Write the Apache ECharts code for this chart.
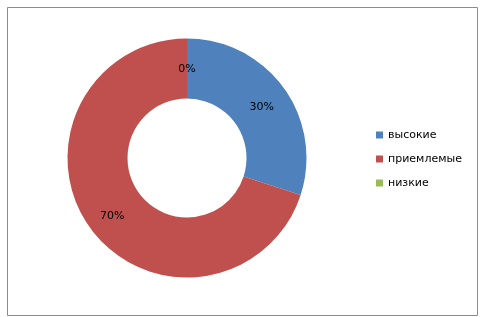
<!DOCTYPE html>
<html>
<head>
<meta charset="utf-8">
<script src="https://cdn.jsdelivr.net/npm/echarts@6/dist/echarts.min.js"></script>
<style>html,body{margin:0;padding:0;background:#fff}#c{width:480px;height:317px}</style>
</head>
<body>
<div id="c"></div>
<script>
var categories = ['высокие', 'приемлемые', 'низкие'];
var values = [30, 70, 0];
var colors = ['#4F81BD', '#C0504D', '#9BBB59'];

var chart = echarts.init(document.getElementById('c'), null, {renderer: 'canvas'});
var total = values.reduce(function (a, b) { return a + b; }, 0);
chart.setOption({
  animation: false,
  graphic: [{
    type: 'rect', left: 5, top: 5,
    shape: {width: 470, height: 308},
    style: {fill: 'none', stroke: '#8c8c8c', lineWidth: 1}, silent: true
  }],
  legend: {
    orient: 'vertical', left: 371, top: 123,
    itemWidth: 7, itemHeight: 7, itemGap: 10,
    icon: 'rect',
    textStyle: {fontFamily: 'DejaVu Sans', fontSize: 11, color: '#000', lineHeight: 14},
    data: categories
  },
  series: [{
    type: 'pie',
    center: [187, 158],
    radius: [59.5, 119.5],
    startAngle: 90,
    clockwise: true,
    avoidLabelOverlap: false,
    silent: true,
    label: {
      show: true, position: 'inside', offset: [0, 4],
      fontFamily: 'DejaVu Sans', fontSize: 11, color: '#000',
      formatter: function (p) { return Math.round(p.value / total * 100) + '%'; }
    },
    labelLine: {show: false},
    emphasis: {disabled: true},
    data: categories.map(function (c, i) {
      return {name: c, value: values[i], itemStyle: {color: colors[i]}};
    })
  }]
});
</script>
</body>
</html>
